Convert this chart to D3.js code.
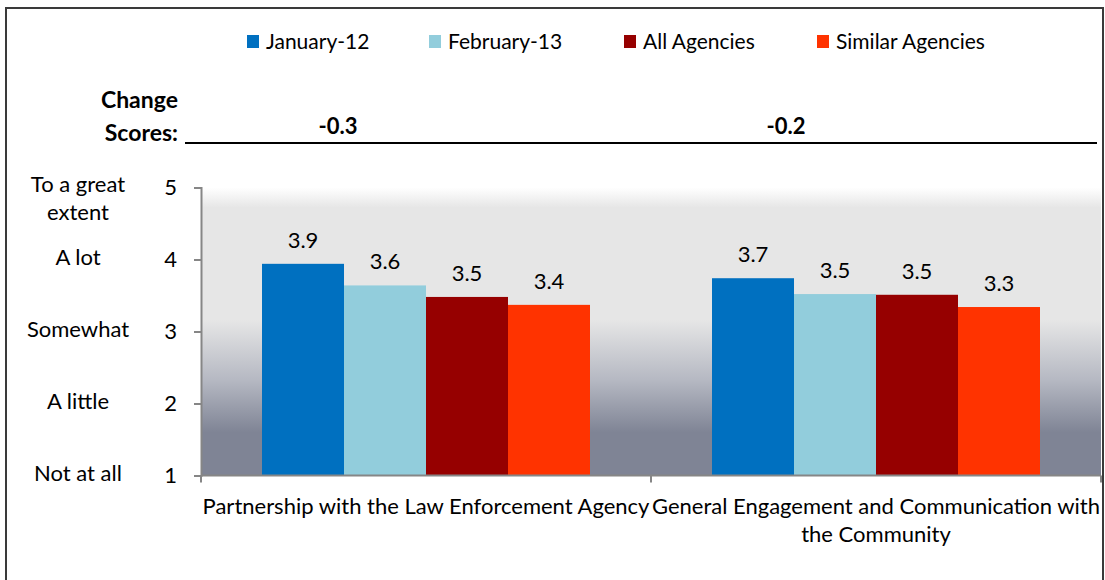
<!DOCTYPE html>
<html>
<head>
<meta charset="utf-8">
<script src="https://cdn.jsdelivr.net/npm/d3@7"></script>
<style>
  body { margin: 0; background: #fff; }
  text { font-family: Lato, "Open Sans", sans-serif; fill: #000; }
</style>
</head>
<body>
<div class="chart"></div>
<script>
var categories = ["Partnership with the Law Enforcement Agency", "General Engagement and Communication with the Community"];
var seriesNames = ["January-12", "February-13", "All Agencies", "Similar Agencies"];
var seriesColors = ["#0070C0", "#92CDDC", "#960000", "#FF3300"];
var january12 = [3.94, 3.74];
var february13 = [3.64, 3.52];
var allAgencies = [3.48, 3.51];
var similarAgencies = [3.37, 3.34];
var changeScores = ["-0.3", "-0.2"];
var yTickLabels = ["Not at all", "A little", "Somewhat", "A lot", "To a great extent"];
var yTicks = [1, 2, 3, 4, 5];

var svgWidth = 1105, svgHeight = 580;
var margin = { top: 187.5, right: 4, bottom: 104.5, left: 201 };
var width = svgWidth - margin.left - margin.right;
var height = svgHeight - margin.top - margin.bottom;

var svg = d3.select(".chart")
    .append("svg")
    .attr("width", svgWidth)
    .attr("height", svgHeight);

svg.append("rect")
    .attr("width", svgWidth).attr("height", svgHeight)
    .attr("fill", "#fff");

// outer frame
svg.append("rect")
    .attr("x", 6).attr("y", 8)
    .attr("width", 1097).attr("height", 640)
    .attr("fill", "none")
    .attr("stroke", "#3a3a3a")
    .attr("stroke-width", 2);

// background gradient
var grad = svg.append("defs").append("linearGradient")
    .attr("id", "bg").attr("x1", 0).attr("x2", 0).attr("y1", 0).attr("y2", 1);
[[0, "#ffffff"], [0.07, "#e6e6e6"], [0.46, "#e6e6e6"], [0.67, "#b5b8c2"], [0.85, "#7f8495"], [1, "#7f8495"]]
    .forEach(function(s) {
        grad.append("stop").attr("offset", s[0]).attr("stop-color", s[1]);
    });

var chart = svg.append("g")
    .attr("transform", "translate(" + margin.left + "," + margin.top + ")");

chart.append("rect")
    .attr("width", width).attr("height", height)
    .attr("fill", "url(#bg)");

var data = categories.map(function(c, i) {
    return { cat: c, values: [january12[i], february13[i], allAgencies[i], similarAgencies[i]] };
});

var x0 = d3.scaleBand().domain(categories).range([0, width]).paddingInner(0).paddingOuter(0);
var x1 = d3.scaleBand().domain(seriesNames).range([0, x0.bandwidth()]).paddingInner(0).paddingOuter(0.744);
var y = d3.scaleLinear().domain([1, 5]).range([height, 0]);

// bars
var groups = chart.selectAll(".group")
    .data(data)
    .enter().append("g")
    .attr("class", "group")
    .attr("transform", function(d) { return "translate(" + x0(d.cat) + ",0)"; });

groups.selectAll("rect")
    .data(function(d) { return d.values.map(function(v, j) { return { name: seriesNames[j], value: v, color: seriesColors[j] }; }); })
    .enter().append("rect")
    .attr("x", function(d) { return x1(d.name); })
    .attr("y", function(d) { return y(d.value); })
    .attr("width", x1.bandwidth())
    .attr("height", function(d) { return height - y(d.value); })
    .attr("fill", function(d) { return d.color; });

groups.selectAll(".valueLabel")
    .data(function(d) { return d.values.map(function(v, j) { return { name: seriesNames[j], value: v }; }); })
    .enter().append("text")
    .attr("class", "valueLabel")
    .attr("x", function(d) { return x1(d.name) + x1.bandwidth() / 2; })
    .attr("y", function(d) { return y(d.value) - 16; })
    .attr("text-anchor", "middle")
    .style("font-size", "22px")
    .text(function(d) { return d.value.toFixed(1); });

// y axis
var leftAxis = d3.axisLeft(y).tickValues(yTicks).tickFormat(d3.format("d")).tickSize(7).tickPadding(17);
var yAxis = chart.append("g").attr("class", "y-axis").call(leftAxis);
yAxis.select(".domain").attr("stroke", "#868686").attr("stroke-width", 2);
yAxis.selectAll(".tick line").attr("stroke", "#868686").attr("stroke-width", 2);
yAxis.selectAll(".tick text").style("font-size", "22px").style("font-family", "Lato, sans-serif").attr("fill", "#000");

// x axis line with boundary ticks
var xAxisG = chart.append("g").attr("class", "x-axis").attr("transform", "translate(0," + height + ")");
xAxisG.append("line")
    .attr("x1", 0).attr("x2", width)
    .attr("stroke", "#868686").attr("stroke-width", 2);
xAxisG.selectAll(".bound")
    .data(categories.map(function(c) { return x0(c); }).concat([width]))
    .enter().append("line")
    .attr("class", "bound")
    .attr("x1", function(d) { return d; }).attr("x2", function(d) { return d; })
    .attr("y1", 0).attr("y2", 7)
    .attr("stroke", "#868686").attr("stroke-width", 2);

// category labels
xAxisG.selectAll(".catLabel")
    .data(categories)
    .enter().append("text")
    .attr("class", "catLabel")
    .attr("x", function(d) { return x0(d) + x0.bandwidth() / 2; })
    .attr("y", 38)
    .attr("text-anchor", "middle")
    .style("font-size", "22px")
    .text(function(d) { return d; })
    .each(function(d) { wrap(d3.select(this), x0.bandwidth() + 6, 28); });

function wrap(text, maxWidth, lineHeight) {
    var words = text.text().split(/\s+/), line = [], lineNo = 0;
    var xPos = text.attr("x"), yPos = text.attr("y");
    text.text(null);
    var tspan = text.append("tspan").attr("x", xPos).attr("y", yPos);
    words.forEach(function(w) {
        line.push(w);
        tspan.text(line.join(" "));
        if (tspan.node().getComputedTextLength() > maxWidth && line.length > 1) {
            line.pop();
            tspan.text(line.join(" "));
            line = [w];
            lineNo++;
            tspan = text.append("tspan").attr("x", xPos).attr("y", +yPos + lineNo * lineHeight).text(w);
        }
    });
}

// verbal scale labels left of axis
var verbal = svg.append("g").attr("class", "verbal");
yTickLabels.forEach(function(label, i) {
    var yPos = margin.top + y(yTicks[i]);
    var t = verbal.append("text")
        .attr("x", 78)
        .attr("text-anchor", "middle")
        .style("font-size", "22px");
    if (label === "To a great extent") {
        t.append("tspan").attr("x", 78).attr("y", yPos + 4).text("To a great");
        t.append("tspan").attr("x", 78).attr("y", yPos + 32).text("extent");
    } else {
        t.attr("y", yPos + 5).text(label);
    }
});

// legend
var legendX = [247, 429, 624, 817];
var legend = svg.append("g").attr("class", "legend");
seriesNames.forEach(function(name, i) {
    legend.append("rect")
        .attr("x", legendX[i]).attr("y", 35)
        .attr("width", 12).attr("height", 13)
        .attr("fill", seriesColors[i]);
    legend.append("text")
        .attr("x", legendX[i] + 19).attr("y", 49)
        .style("font-size", "21px")
        .text(name);
});

// change scores
svg.append("text")
    .attr("x", 178).attr("y", 108)
    .attr("text-anchor", "end")
    .style("font-size", "23px").style("font-weight", "bold")
    .text("Change");
svg.append("text")
    .attr("x", 178).attr("y", 141)
    .attr("text-anchor", "end")
    .style("font-size", "23px").style("font-weight", "bold")
    .text("Scores:");
svg.append("line")
    .attr("x1", 185).attr("x2", 1097)
    .attr("y1", 143).attr("y2", 143)
    .attr("stroke", "#000").attr("stroke-width", 2);
var changeX = [338, 786];
changeScores.forEach(function(s, i) {
    svg.append("text")
        .attr("x", changeX[i]).attr("y", 134)
        .attr("text-anchor", "middle")
        .style("font-size", "22px").style("font-weight", "bold")
        .text(s);
});
</script>
</body>
</html>
